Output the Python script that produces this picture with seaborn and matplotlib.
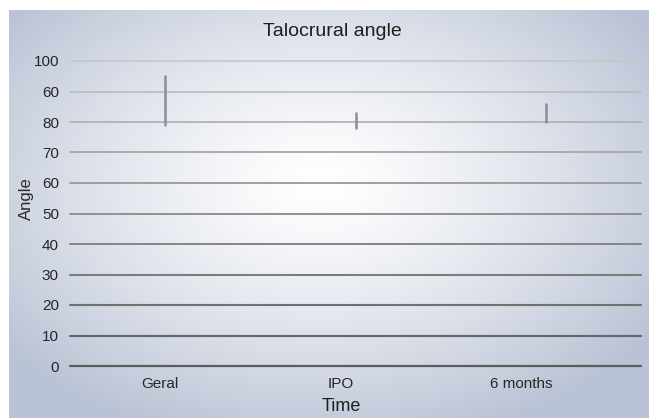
import numpy as np
import pandas as pd
import matplotlib.pyplot as plt
import seaborn as sns

# range of the talocrural angle for each time point (low, high)
times = ["Geral", "IPO", "6 months"]
low_vals = [79, 78, 80]
high_vals = [95, 83, 86]
ytick_vals = [0, 10, 20, 30, 40, 50, 60, 70, 80, 90, 100]
ytick_labels = ["0", "10", "20", "30", "40", "50", "60", "70", "80", "60", "100"]

df = pd.DataFrame({
    "time": times * 2,
    "angle": low_vals + high_vals,
})

sns.set_style("white")
plt.rcParams["font.family"] = ["Liberation Sans", "DejaVu Sans"]

fig = plt.figure(figsize=(6.49, 4.18), dpi=100)
fig.patch.set_facecolor("white")

# radial gradient backdrop
bg = fig.add_axes([9 / 649, 0, 640 / 649, 408 / 418])
gx, gy = np.meshgrid(np.linspace(-1, 1, 400), np.linspace(-1, 1, 260))
r = np.sqrt((gx + 0.03) ** 2 + ((gy + 0.15) / 1.05) ** 2)
t = np.clip(r / 1.25, 0, 1) ** 1.3
edge = np.array([186, 195, 213]) / 255
centre = np.array([1.0, 1.0, 1.0])
img = centre[None, None, :] * (1 - t[..., None]) + edge[None, None, :] * t[..., None]
bg.imshow(img, aspect="auto", extent=[0, 1, 0, 1])
bg.set_axis_off()

ax = fig.add_axes([70 / 649, 52 / 418, 571 / 649, 305 / 418])
ax.patch.set_alpha(0)

# gridlines get darker toward the bottom
for i, v in enumerate(ytick_vals):
    k = i / (len(ytick_vals) - 1)
    c = (0.36 + 0.42 * k,) * 3
    ax.axhline(v, color=c, lw=1.2 + 0.4 * (1 - k), zorder=1, clip_on=False)

sns.pointplot(data=df, x="time", y="angle", errorbar=("pi", 100),
              linestyle="none", marker="", color="#8a8e98",
              err_kws={"linewidth": 1.8}, ax=ax)

ax.set_xlim(-0.5, 2.5)
ax.set_ylim(0, 100)
# labels in the original sit a little left of their bars
ax.set_xticks([i * 0.95 - 0.03 for i in range(len(times))])
ax.set_xticklabels(times)
ax.set_yticks(ytick_vals)
ax.set_yticklabels(ytick_labels)
ax.tick_params(axis="both", length=0, labelsize=11, labelcolor="#262626")
ax.tick_params(axis="y", pad=8)
ax.tick_params(axis="x", pad=8)
for s in ax.spines.values():
    s.set_visible(False)
fig.text(332 / 649, 1 - 31 / 418, "Talocrural angle", fontsize=14,
         color="#1e1e1e", ha="center", va="center")
ax.set_xlabel("Time", fontsize=13, color="#1e1e1e")
ax.xaxis.set_label_coords((341 - 70) / 571, -0.105)
ax.set_ylabel("Angle", fontsize=12, color="#2a2a2a")
ax.yaxis.set_label_coords((34 - 70) / 571, (366 - 199) / 305)

fig.savefig("out.png", dpi=100)
